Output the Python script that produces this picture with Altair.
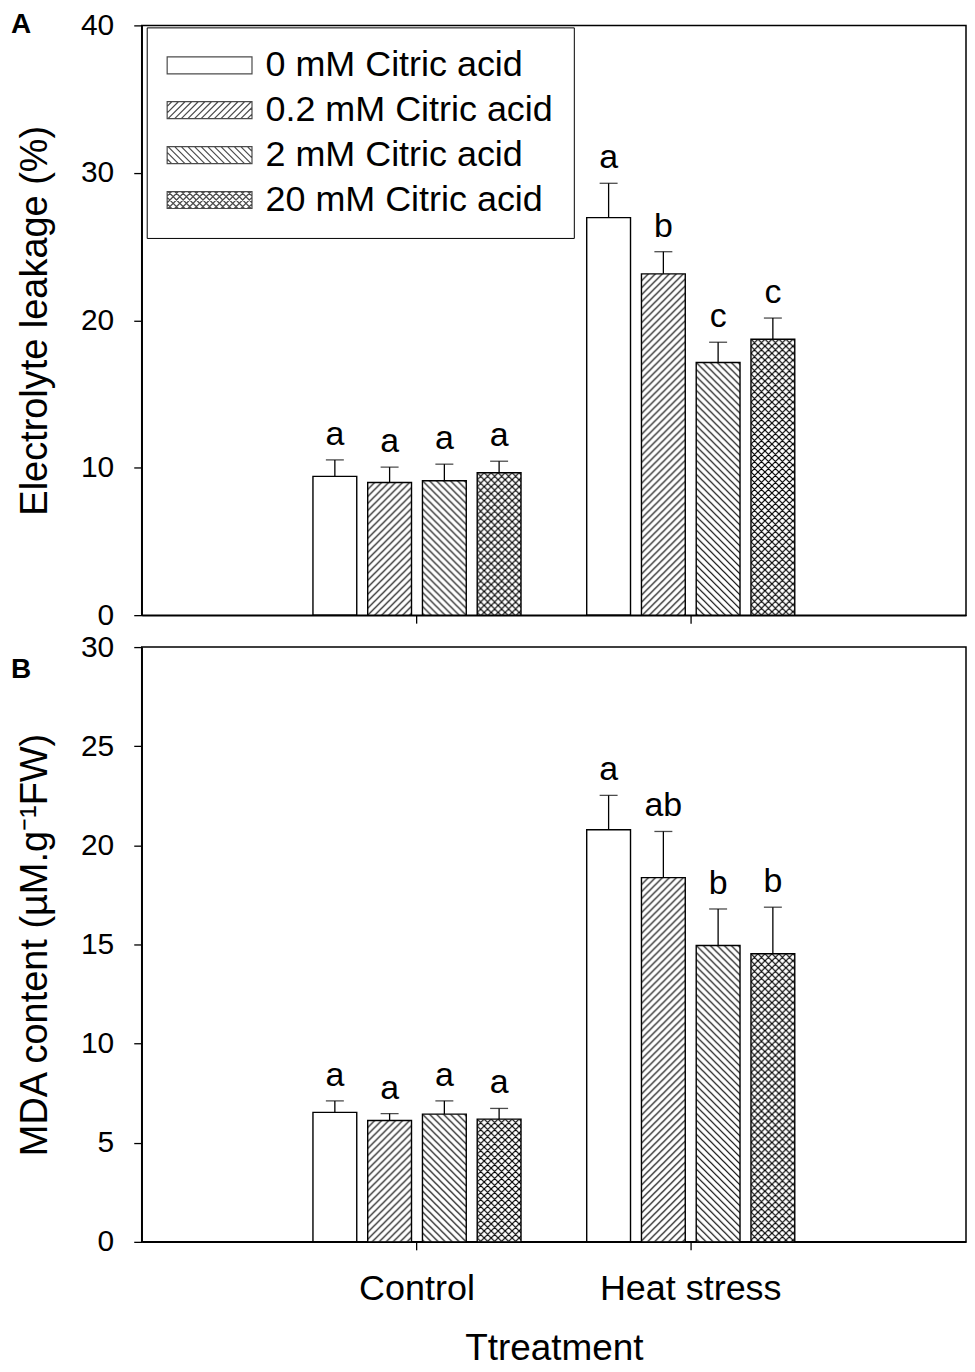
import base64
import altair as alt
import pandas as pd

# ---------------- data ----------------
TREATMENTS = ["Control", "Heat stress"]
SERIES = ["0 mM Citric acid", "0.2 mM Citric acid", "2 mM Citric acid", "20 mM Citric acid"]

EL_CONTROL = [9.41, 9.00, 9.12, 9.66]
EL_CONTROL_ERR = [1.12, 1.04, 1.12, 0.78]
EL_HEAT = [26.96, 23.15, 17.14, 18.71]
EL_HEAT_ERR = [2.33, 1.50, 1.37, 1.44]
EL_CONTROL_LETTERS = ["a", "a", "a", "a"]
EL_HEAT_LETTERS = ["a", "b", "c", "c"]

MDA_CONTROL = [6.53, 6.12, 6.44, 6.19]
MDA_CONTROL_ERR = [0.58, 0.35, 0.67, 0.54]
MDA_HEAT = [20.79, 18.37, 14.95, 14.53]
MDA_HEAT_ERR = [1.73, 2.33, 1.84, 2.35]
MDA_CONTROL_LETTERS = ["a", "a", "a", "a"]
MDA_HEAT_LETTERS = ["a", "ab", "b", "b"]

EL_TICKS = [0, 10, 20, 30, 40]
MDA_TICKS = [0, 5, 10, 15, 20, 25, 30]

EL_TITLE = "Electrolyte leakage (%)"
MDA_TITLE = "MDA content (\u00b5M.g\u207b\u00b9FW)"
X_TITLE = "Ttreatment"

FONT = "Liberation Sans"


def make_df(ctrl, ctrl_err, ctrl_lab, heat, heat_err, heat_lab):
    rows = []
    for t, vals, errs, labs in [(TREATMENTS[0], ctrl, ctrl_err, ctrl_lab),
                                (TREATMENTS[1], heat, heat_err, heat_lab)]:
        for s, v, e, l in zip(SERIES, vals, errs, labs):
            rows.append({"treatment": t, "series": s, "value": v, "err": e, "letter": l})
    return pd.DataFrame(rows)


df_el = make_df(EL_CONTROL, EL_CONTROL_ERR, EL_CONTROL_LETTERS, EL_HEAT, EL_HEAT_ERR, EL_HEAT_LETTERS)
df_mda = make_df(MDA_CONTROL, MDA_CONTROL_ERR, MDA_CONTROL_LETTERS, MDA_HEAT, MDA_HEAT_ERR, MDA_HEAT_LETTERS)


# ---------------- hatch fills (styles) ----------------
def hatch_uri(path_d):
    svg = ("<svg xmlns='http://www.w3.org/2000/svg' width='100%' height='100%'>"
           "<defs><pattern id='h' x='0' y='0' width='7' height='7' patternUnits='userSpaceOnUse'>"
           f"<path d='{path_d}' stroke='black' stroke-width='1.2' fill='none'/>"
           "</pattern></defs>"
           "<rect x='0' y='0' width='100%' height='100%' fill='white'/>"
           "<rect x='0' y='0' width='100%' height='100%' fill='url(#h)'/></svg>")
    return "data:image/svg+xml;base64," + base64.b64encode(svg.encode()).decode()


FWD = "M-1,1L1,-1M0,7L7,0M6,8L8,6"
BACK = "M-1,6L1,8M0,0L7,7M6,-1L8,1"
HATCH = [None, hatch_uri(FWD), hatch_uri(BACK), hatch_uri(FWD + BACK)]


def legend_path(kind, step=0.78, W=5.0, H=1.0):
    d = f"M{-W},{-H}L{W},{-H}L{W},{H}L{-W},{H}Z"
    segs = []
    n = int((W + H) / step) + 1
    cs = [i * step for i in range(-n, n + 1)]
    if kind in ("fwd", "cross"):
        for c in cs:  # x + y = c
            y1, y2 = max(-H, c - W), min(H, c + W)
            if y2 - y1 > 1e-6:
                segs.append(f"M{c - y1:.3f},{y1:.3f}L{c - y2:.3f},{y2:.3f}")
    if kind in ("back", "cross"):
        for c in cs:  # x - y = c
            y1, y2 = max(-H, -W - c), min(H, W - c)
            if y2 - y1 > 1e-6:
                segs.append(f"M{c + y1:.3f},{y1:.3f}L{c + y2:.3f},{y2:.3f}")
    return d + "".join(segs)


LEGEND_SHAPES = [legend_path("none"), legend_path("fwd"), legend_path("back"), legend_path("cross")]


# ---------------- panel builder ----------------
def panel(df, ymax, ticks, ytitle, xaxis, height, letter, title_dy, with_legend):
    xenc = alt.X("treatment:N", sort=TREATMENTS,
                 scale=alt.Scale(paddingInner=0.24, paddingOuter=0.6255), axis=xaxis)
    xoff = alt.XOffset("series:N", sort=SERIES, scale=alt.Scale(paddingInner=0.2, paddingOuter=0))
    yscale = alt.Scale(domain=[0, ymax], nice=False)
    yaxis = alt.Axis(values=ticks, title=ytitle, titleFontSize=38, titlePadding=26,
                     labelFontSize=30, labelPadding=20, tickSize=8)

    def Y(field):
        return alt.Y(f"{field}:Q", scale=yscale, axis=yaxis)

    base = alt.Chart(df).transform_calculate(upper="datum.value + datum.err").encode(x=xenc, xOffset=xoff)

    layers = []
    for i in range(1, 4):
        layers.append(
            base.transform_filter(alt.datum.series == SERIES[i])
            .mark_image(aspect=False)
            .encode(y=Y("value"), y2=alt.datum(0), url=alt.value(HATCH[i]))
        )
    layers.append(base.mark_bar(fillOpacity=0, stroke="black", strokeWidth=1.4).encode(y=Y("value")))
    layers.append(base.mark_rule(color="black", strokeWidth=1.3).encode(y=Y("value"), y2="upper:Q"))
    layers.append(base.mark_tick(color="black", thickness=1.3, size=18).encode(y=Y("upper")))
    layers.append(base.mark_text(dy=-8, baseline="bottom", fontSize=34, font=FONT, color="black")
                  .encode(y=Y("upper"), text="letter:N"))
    if with_legend:
        layers.append(
            alt.Chart(df).transform_filter("false")
            .mark_point(filled=False, color="black", strokeWidth=1.2)
            .encode(shape=alt.Shape("series:N",
                                    scale=alt.Scale(domain=SERIES, range=LEGEND_SHAPES),
                                    legend=alt.Legend(title=None, orient="none", legendX=5, legendY=2,
                                                      labelFontSize=36, labelFont=FONT, labelColor="black",
                                                      labelLimit=600, symbolSize=289,
                                                      symbolStrokeColor="black", symbolStrokeWidth=1.2,
                                                      symbolOffset=25, labelOffset=38,
                                                      rowPadding=9, padding=20,
                                                      strokeColor="black", fillColor="white")))
        )

    return alt.layer(*layers).properties(
        width=826, height=height,
        title=alt.Title(letter, orient="none", anchor="start", frame="group", dx=-131, dy=title_dy,
                        offset=0, baseline="bottom", fontSize=28, fontWeight="bold",
                        font=FONT, color="black"),
    )


xaxis_a = alt.Axis(labels=False, title=None, tickSize=8)
xaxis_b = alt.Axis(labelAngle=0, labelFontSize=36, labelPadding=22, labelLimit=500, title=X_TITLE,
                   titleFontSize=37, titlePadding=24, tickSize=8)

panel_a = panel(df_el, 40, EL_TICKS, EL_TITLE, xaxis_a, 591, "A", 14, True)
panel_b = panel(df_mda, 30, MDA_TICKS, MDA_TITLE, xaxis_b, 596, "B", 37, False)

chart = alt.vconcat(panel_a, panel_b, spacing=32, bounds="flush").properties(
    padding={"left": 2, "top": 0, "right": 0, "bottom": 0},
    background="white",
).configure_view(
    stroke="black", strokeWidth=1.5
).configure_axis(
    grid=False, domainColor="black", domainWidth=1.5, tickColor="black", tickWidth=1.3,
    labelColor="black", titleColor="black", labelFont=FONT, titleFont=FONT,
    titleFontWeight="normal",
)

chart.save("out.html", embed_options={"renderer": "svg", "actions": False})
